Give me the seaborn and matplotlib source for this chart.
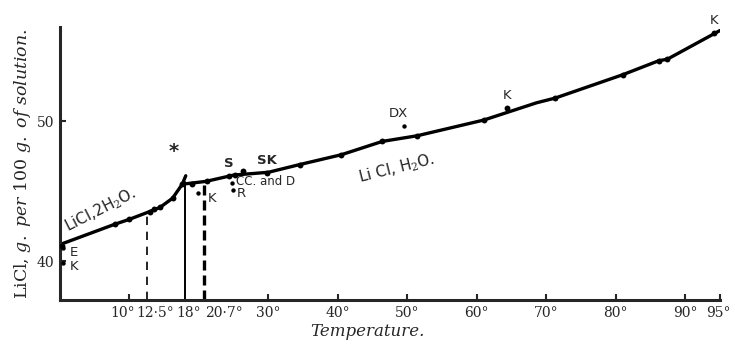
import numpy as np
import pandas as pd
import matplotlib
matplotlib.use('Agg')
import matplotlib.pyplot as plt
import matplotlib.transforms as mtransforms
import seaborn as sns

# Solubility of LiCl (deg C, g LiCl per 100 g solution)
# traced curve, LiCl.2H2O branch (runs a little past the transition point)
dihydrate_t = [0.0, 7.9, 10.0, 12.9, 14.4, 16.2, 17.6, 18.1]
dihydrate_c = [41.2, 42.65, 43.0, 43.55, 43.85, 44.5, 45.5, 46.1]
# traced curve, LiCl.H2O branch
hydrate_t = [17.6, 21.0, 25.0, 30.0, 34.5, 40.5, 46.4, 51.4, 61.0, 68.6, 71.3, 81.0, 86.2, 87.4, 95.0]
hydrate_c = [45.5, 45.7, 46.15, 46.35, 46.9, 47.6, 48.55, 48.95, 50.07, 51.3, 51.64, 53.3, 54.3, 54.4, 56.45]

# measured points lying on the curves
obs_t = [0.3, 7.9, 10.0, 12.9, 13.6, 14.4, 16.2, 17.6, 19.0, 21.2, 24.3, 25.2, 26.4, 29.8,
         34.5, 40.5, 46.4, 51.4, 61.0, 64.4, 71.3, 81.0, 86.2, 87.4, 94.2]
obs_c = [41.1, 42.65, 43.0, 43.55, 43.7, 43.85, 44.5, 45.5, 45.55, 45.7, 46.1, 46.15, 46.45, 46.3,
         46.9, 47.6, 48.6, 48.94, 50.07, 50.94, 51.64, 53.3, 54.3, 54.4, 56.3]

# points tagged with the observer's initials
tag_t = [0.4, 0.4, 19.8, 24.8, 24.9, 49.5, 24.3, 29.8, 64.4, 94.2]
tag_c = [40.95, 39.9, 44.9, 45.6, 45.1, 49.67, 46.1, 46.3, 50.94, 56.3]
tag_txt = ['E', 'K', 'K', 'CC. and D', 'R', 'DX', 'S', 'SK', 'K', 'K']

# transition temperatures marked by vertical lines
trans_t = [12.5, 18.0, 20.7]

xtick_major = [10, 30, 40, 50, 60, 70, 80, 90, 95]
xtick_minor = [12.5, 18.0, 20.7]
xtick_minor_lbl = ['12·5°', '18°', '20·7°']

sns.set_style('ticks')
plt.rcParams['font.family'] = ['DejaVu Serif']
plt.rcParams['mathtext.fontset'] = 'dejavuserif'

curve1 = pd.DataFrame({'t': dihydrate_t, 'c': dihydrate_c})
curve2 = pd.DataFrame({'t': hydrate_t, 'c': hydrate_c})
pts = pd.DataFrame({'t': obs_t, 'c': obs_c})
tags = pd.DataFrame({'t': tag_t, 'c': tag_c, 'txt': tag_txt})

fig = plt.figure(figsize=(7.35, 3.47), dpi=100)
ax = fig.add_axes([60 / 735, 47 / 347, 660 / 735, 273 / 347])

sns.lineplot(data=curve1, x='t', y='c', ax=ax, color='black', lw=2.4, sort=False, estimator=None)
sns.lineplot(data=curve2, x='t', y='c', ax=ax, color='black', lw=2.4, sort=False, estimator=None)
sns.scatterplot(data=pts, x='t', y='c', ax=ax, color='black', s=18, linewidth=0, zorder=3)
sns.scatterplot(data=tags, x='t', y='c', ax=ax, color='black', s=10, linewidth=0, zorder=3)

ymin = 37.25
# vertical lines up to the curve
top125 = np.interp(trans_t[0], dihydrate_t, dihydrate_c) - 0.15
top18 = np.interp(trans_t[1], hydrate_t, hydrate_c) + 0.1
top207 = np.interp(trans_t[2], hydrate_t, hydrate_c)
ax.plot([trans_t[0]] * 2, [ymin, top125], color='black', lw=1.2, ls=(0, (5, 4)))
ax.plot([trans_t[1]] * 2, [ymin, top18], color='black', lw=1.4)
ax.plot([trans_t[2]] * 2, [ymin, top207], color='black', lw=2.4, ls=(0, (3, 1.5)))

# initials next to points (offsets in points)
offs = {0: (5, -3), 1: (5, -3), 2: (7, -4), 3: (3, 1), 4: (3, -3), 5: (-4, 9),
        6: (0, 9), 7: (0, 9), 8: (0, 9), 9: (0, 9)}
for i, row in tags.iterrows():
    dx, dy = offs[i]
    ha = 'left' if dx > 0 else 'center'
    ax.annotate(row['txt'], (row['t'], row['c']), xytext=(dx, dy), textcoords='offset points',
                ha=ha, va='center', fontsize=8.5 if row['txt'] == 'CC. and D' else 9.5,
                family='DejaVu Sans', fontweight='bold' if row['txt'] in ('S', 'SK') else 'normal')

ax.text(16.3, 47.8, '*', fontsize=14, ha='center', va='center', family='DejaVu Sans', fontweight='bold')
ax.text(5.8, 43.65, 'LiCl,2H$_2$O.', rotation=27, rotation_mode='anchor', ha='center', va='center',
        fontsize=11, family='DejaVu Sans')
ax.text(48.5, 46.6, 'Li Cl, H$_2$O.', rotation=14, rotation_mode='anchor', ha='center', va='center',
        fontsize=11, family='DejaVu Sans')

ax.set_xlim(0, 95)
ax.set_ylim(ymin, 56.7)
sns.despine(ax=ax)
for s in ('left', 'bottom'):
    ax.spines[s].set_linewidth(2.2)

ax.set_xticks(xtick_major)
ax.set_xticklabels([f'{v}°' for v in xtick_major])
ax.set_xticks(xtick_minor, minor=True)
ax.set_xticklabels(xtick_minor_lbl, minor=True)
ax.set_yticks([40, 50])
ax.set_yticklabels(['40', '50'])
ax.tick_params(axis='both', which='major', direction='in', length=4, width=1.5, labelsize=10, pad=4)
ax.tick_params(axis='x', which='minor', length=0, labelsize=10, pad=4)

# spread the crowded labels at the low end, pull 95 in from the edge
shift = {10: -7, 12.5: 8, 18.0: 4, 20.7: 20, 95: -2}
for lbl, v in zip(ax.get_xticklabels(), xtick_major):
    if v in shift:
        lbl.set_transform(lbl.get_transform() + mtransforms.ScaledTranslation(shift[v] / 100, 0, fig.dpi_scale_trans))
for lbl, v in zip(ax.get_xticklabels(minor=True), xtick_minor):
    lbl.set_transform(lbl.get_transform() + mtransforms.ScaledTranslation(shift[v] / 100, 0, fig.dpi_scale_trans))

ax.set_xlabel('Temperature.', fontstyle='italic', fontsize=12)
ax.xaxis.set_label_coords(0.466, -0.085)
ax.set_ylabel(r'LiCl, $\mathit{g.\ per}$ 100 $\mathit{g.\ of\ solution.}$', fontsize=12.5, labelpad=3)

fig.savefig('out.png', dpi=100)
